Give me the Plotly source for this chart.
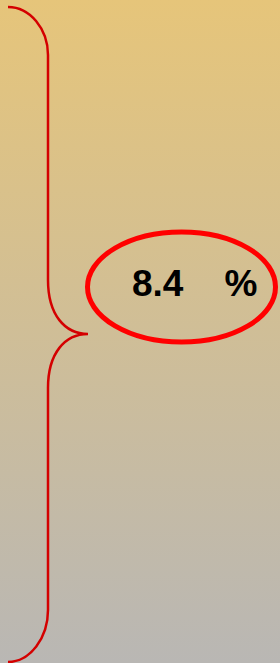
import plotly.graph_objects as go

# Data
values = [8.4]
unit_labels = ["%"]

W, H = 280, 663
TOP_COLOR = "#E6C57A"
BOTTOM_COLOR = "#B9B7B4"

fig = go.Figure()

# Gradient background
fig.add_trace(go.Scatter(
    x=[0, W, W, 0, 0], y=[0, 0, H, H, 0],
    mode="lines", line=dict(width=0),
    fill="toself",
    fillgradient=dict(type="vertical", start=0, stop=H,
                      colorscale=[[0, TOP_COLOR], [1, BOTTOM_COLOR]]),
    hoverinfo="skip", showlegend=False,
))

# Curly brace
brace = ("M 8,7 C 30,7 48,29 48,55 L 48,280 "
         "C 48,315 65,334 88,334 C 65,334 48,353 48,388 "
         "L 48,610 C 48,638 30,662 8,662")
fig.add_shape(type="path", path=brace, xref="x", yref="y",
              line=dict(color="#D40000", width=2.5))

# Ellipse
fig.add_shape(type="circle", xref="x", yref="y",
              x0=87.5, x1=275.5, y0=232, y1=342,
              line=dict(color="#FF0000", width=5))

text = f"{values[0]}" + "\u00a0" * 4 + unit_labels[0]
fig.add_annotation(x=194.5, y=283, xref="x", yref="y", text=text,
                   showarrow=False,
                   font=dict(family="Liberation Sans", size=37, color="black",
                             weight="bold"))

fig.update_layout(
    width=W, height=H,
    margin=dict(l=0, r=0, t=0, b=0),
    paper_bgcolor="#D0BE98", plot_bgcolor="rgba(0,0,0,0)",
    xaxis=dict(range=[0, W], visible=False, fixedrange=True),
    yaxis=dict(range=[H, 0], visible=False, fixedrange=True),
    showlegend=False,
)

fig.write_html("out.html", config={"displayModeBar": False},
               post_script="document.body.style.margin='0';")
